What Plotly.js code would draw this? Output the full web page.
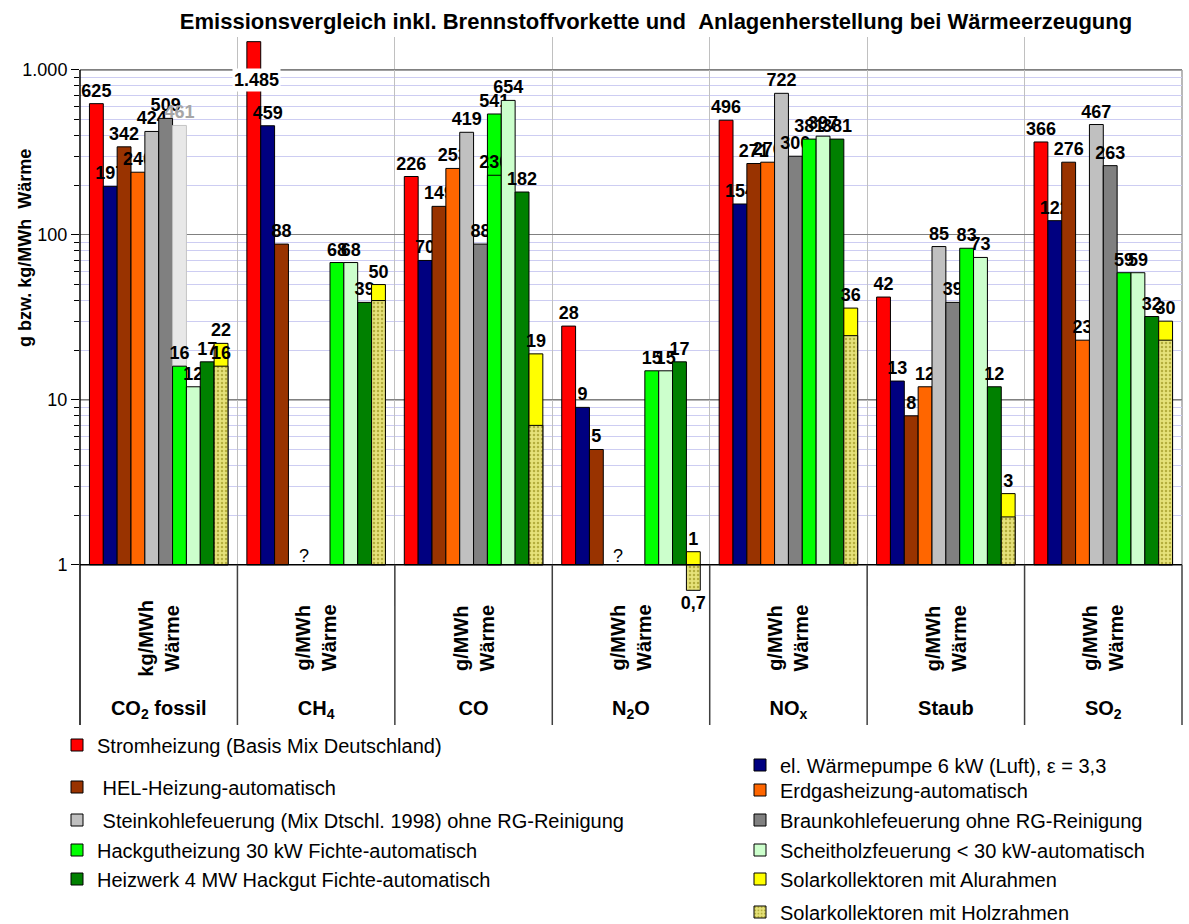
<!DOCTYPE html>
<html>
<head>
<meta charset="utf-8">
<script src="https://cdn.plot.ly/plotly-3.0.1.min.js"></script>
<style>html,body{margin:0;padding:0;background:#fff;}#chart{width:1189px;height:924px;}</style>
</head>
<body>
<div id="chart"></div>
<script>
// ---------- data ----------
const categories = ['CO2 fossil', 'CH4', 'CO', 'N2O', 'NOx', 'Staub', 'SO2'];
const categoryLabels = ['CO<sub>2</sub> fossil', 'CH<sub>4</sub>', 'CO', 'N<sub>2</sub>O', 'NO<sub>x</sub>', 'Staub', 'SO<sub>2</sub>'];
const unitLabels = ['kg/MWh', 'g/MWh', 'g/MWh', 'g/MWh', 'g/MWh', 'g/MWh', 'g/MWh'];
const unitSuffix = 'Wärme';

const stromheizung   = [625, 1485, 226, 28, 496, 42, 366];
const waermepumpe    = [197, 459, 70, 9, 154, 13, 122];
const helHeizung     = [342, 88, 149, 5, 271, 8, 276];
const erdgasHeizung  = [240, null, 253, null, 276, 12, 23];
const steinkohle     = [424, null, 419, null, 722, 85, 467];
const braunkohle     = [509, null, 88, null, 300, 39, 263];
const grauHinterlegt = [461, null, null, null, null, null, null];
const hackgut        = [16, 68, 541, 15, 381, 83, 59];
const hackgutTeil    = [null, null, 230, null, null, null, null];
const scheitholz     = [12, 68, 654, 15, 397, 73, 59];
const heizwerk       = [17, 39, 182, 17, 381, 12, 32];
const solarAlu       = [22, 50, 19, 1.2, 36, 2.7, 30];
const solarAluText   = ['22', '50', '19', '1', '36', '3', '30'];
const solarHolz      = [16, 40, 7, 0.7, 24.5, 1.95, 23];
const solarHolzText  = ['16', '', '', '0,7', '', '', ''];
const stromText      = ['625', '', '226', '28', '496', '42', '366'];
const stromSpitze    = '1.485';
const fehlend        = ['?', '?'];
const fehlendKat     = ['CH4', 'N2O'];

const yTickVals = [1, 10, 100, 1000];
const yTickText = ['1', '10', '100', '1.000'];

// ---------- geometry helpers ----------
const W = 1189, H = 924;
const M = {l: 80, r: 7, t: 37, b: 318, autoexpand: false};
const yRange = [-0.25, 3.2];
const plotH = H - M.t - M.b;
const pyVal = v => (Math.log10(v) - yRange[0]) / (yRange[1] - yRange[0]);
const pyPix = p => ((H - M.b) - p) / plotH;
const pxPix = p => (p - M.l) / (W - M.l - M.r);
const nSlots = 10, bargap = 0.12;
const slotOffset = k => -(1 - bargap) / 2 + (k + 0.5) * (1 - bargap) / nSlots;

const FONT = 'Arial, "Liberation Sans", Helvetica, sans-serif';
const base1 = arr => arr.map(() => 1);
const minus1 = arr => arr.map(v => v == null ? null : v - 1);
const lbl = arr => arr.map(v => v == null ? '' : String(v).replace('.', ','));

function barTrace(name, vals, color, og, opts) {
  opts = opts || {};
  return Object.assign({
    type: 'bar', name: name, x: categories, y: minus1(vals), base: base1(vals),
    offsetgroup: og, text: opts.text || lbl(vals), textposition: 'outside',
    textangle: 0, constraintext: 'none', cliponaxis: false,
    textfont: {family: FONT, size: 18, color: '#000', weight: 700},
    marker: {color: color, line: {color: '#000', width: 1}},
    hoverinfo: 'skip'
  }, opts.extra || {});
}

const traces = [
  barTrace('Stromheizung (Basis Mix Deutschland)', stromheizung, '#ff0000', 's0', {text: stromText, extra: {legend: 'legend'}}),
  barTrace('el. Wärmepumpe 6 kW (Luft), ε = 3,3', waermepumpe, '#000080', 's1', {extra: {legend: 'legend2'}}),
  barTrace('\u00a0HEL-Heizung-automatisch', helHeizung, '#993300', 's2', {extra: {legend: 'legend3'}}),
  barTrace('Erdgasheizung-automatisch', erdgasHeizung, '#ff6600', 's3', {extra: {legend: 'legend4'}}),
  barTrace('\u00a0Steinkohlefeuerung (Mix Dtschl. 1998) ohne RG-Reinigung', steinkohle, '#c0c0c0', 's4', {extra: {legend: 'legend5'}}),
  barTrace('Braunkohlefeuerung ohne RG-Reinigung', braunkohle, '#808080', 's5', {extra: {legend: 'legend6'}}),
  barTrace('grau', grauHinterlegt, '#e8e8e8', 's6', {extra: {showlegend: false,
    marker: {color: '#e8e8e8', line: {color: '#c4c4c4', width: 1}},
    textfont: {family: FONT, size: 18, color: '#a6a6a6', weight: 700}}}),
  barTrace('Hackgutheizung 30 kW Fichte-automatisch', hackgut, '#00ff00', 's6', {extra: {legend: 'legend7'}}),
  barTrace('Hackgut Teil', hackgutTeil, '#00ff00', 's6', {extra: {showlegend: false}}),
  barTrace('Scheitholzfeuerung &lt; 30 kW-automatisch', scheitholz, '#ccffcc', 's7', {extra: {legend: 'legend8'}}),
  barTrace('Heizwerk 4 MW Hackgut Fichte-automatisch', heizwerk, '#008000', 's8', {extra: {legend: 'legend9'}}),
  barTrace('Solarkollektoren mit Alurahmen', solarAlu, '#ffff00', 's9', {text: solarAluText, extra: {legend: 'legend10'}}),
  barTrace('Solarkollektoren mit Holzrahmen', solarHolz, '#e4df6c', 's9', {text: solarHolzText, extra: {legend: 'legend11',
    marker: {color: '#e4df6c', line: {color: '#000', width: 1},
      pattern: {shape: '.', fgcolor: '#b4ae3c', bgcolor: '#e6e27a', size: 4, solidity: 0.3}}}})
];

// ---------- legends ----------
const legendSpec = [
  ['legend', 'L', 745], ['legend2', 'R', 765], ['legend3', 'L', 787], ['legend4', 'R', 790],
  ['legend5', 'L', 820], ['legend6', 'R', 820], ['legend7', 'L', 850], ['legend8', 'R', 850],
  ['legend9', 'L', 879], ['legend10', 'R', 879], ['legend11', 'R', 912]
];
const layout = {
  width: W, height: H, margin: M,
  paper_bgcolor: '#fff', plot_bgcolor: '#fff',
  font: {family: FONT, color: '#000'},
  separators: ',.',
  barmode: 'group', bargap: bargap, bargroupgap: 0,
  title: {text: '<b>Emissionsvergleich inkl. Brennstoffvorkette und\u00a0\u00a0Anlagenherstellung bei Wärmeerzeugung</b>',
    font: {family: FONT, size: 22, color: '#000'}, x: 656 / W, xanchor: 'center', y: 1 - 21 / H, yanchor: 'middle'},
  xaxis: {type: 'category', categoryorder: 'array', categoryarray: categories,
    tickvals: categories, ticktext: categoryLabels, tickson: 'boundaries', automargin: false,
    showgrid: true, gridcolor: '#c0c0c0', gridwidth: 1, ticks: '', showline: false, zeroline: false,
    tickfont: {family: FONT, size: 20, color: '#000', weight: 700}, ticklabelstandoff: 88, fixedrange: true},
  yaxis: {type: 'log', range: yRange, tickvals: yTickVals, ticktext: yTickText, automargin: false,
    ticks: 'outside', ticklen: 8, tickcolor: '#000', showgrid: true, gridcolor: '#808080', gridwidth: 1,
    zeroline: false, showline: false, tickfont: {family: FONT, size: 18, color: '#000'},
    minor: {tickvals: [2,3,4,5,6,7,8,9,20,30,40,50,60,70,80,90,200,300,400,500,600,700,800,900],
      ticks: 'outside', ticklen: 5, tickcolor: '#000', showgrid: true, gridcolor: '#cdcdf2', gridwidth: 1},
    fixedrange: true},
  shapes: [],
  annotations: []
};
legendSpec.forEach(([id, side, yp]) => {
  layout[id] = {x: side === 'L' ? pxPix(57) : pxPix(740), xanchor: 'left', y: pyPix(yp), yanchor: 'middle',
    bgcolor: 'rgba(0,0,0,0)', borderwidth: 0, font: {family: FONT, size: 20, color: '#000'}, itemwidth: 30};
});

// ---------- frame / table lines ----------
const yTop = pyVal(1000), yOne = pyVal(1), yTen = pyVal(10), yTable = pyPix(725);
layout.shapes.push(
  {type: 'rect', xref: 'paper', yref: 'paper', x0: 0, x1: 1, y0: yTop, y1: 1, fillcolor: '#fff', line: {width: 0}, layer: 'between'},
  {type: 'rect', xref: 'paper', yref: 'paper', x0: 0, x1: 1, y0: 0, y1: yOne, fillcolor: '#fff', line: {width: 0}, layer: 'between'},
  {type: 'line', xref: 'paper', yref: 'paper', x0: 0, x1: 1, y0: yTen, y1: yTen, line: {color: '#202020', width: 1}, layer: 'between'},
  {type: 'line', xref: 'paper', yref: 'paper', x0: 0, x1: 1, y0: yTop, y1: yTop, line: {color: '#808080', width: 1.5}, layer: 'between'},
  {type: 'line', xref: 'paper', yref: 'paper', x0: 1, x1: 1, y0: yOne, y1: yTop, line: {color: '#a0a0a0', width: 1.5}, layer: 'between'},
  {type: 'line', xref: 'paper', yref: 'paper', x0: 0, x1: 1, y0: yOne, y1: yOne, line: {color: '#000', width: 1.5}, layer: 'above'},
  {type: 'line', xref: 'paper', yref: 'paper', x0: 0, x1: 0, y0: yTable, y1: yTop, line: {color: '#000', width: 1.5}, layer: 'above'}
);
for (let k = 1; k <= categories.length; k++) {
  layout.shapes.push({type: 'line', xref: 'paper', yref: 'paper', x0: k / categories.length, x1: k / categories.length,
    y0: yTable, y1: yOne, line: {color: '#404040', width: 1.5}, layer: 'above'});
}

// ---------- annotations ----------
categories.forEach((c, i) => {
  layout.annotations.push({xref: 'x', yref: 'paper', x: c, y: pyPix(638), xanchor: 'center', yanchor: 'middle',
    textangle: -90, showarrow: false,
    text: '<b>' + unitLabels[i] + '<br>' + unitSuffix + '</b>', font: {family: FONT, size: 20, color: '#000'}});
});
layout.annotations.push({xref: 'paper', yref: 'paper', x: pxPix(25), y: pyPix(248), xanchor: 'center', yanchor: 'middle',
  textangle: -90, showarrow: false,
  text: '<b>g bzw. kg/MWh\u00a0\u00a0Wärme</b>', font: {family: FONT, size: 18, color: '#000'}});
fehlendKat.forEach((c, i) => {
  layout.annotations.push({xref: 'x', yref: 'paper', x: categories.indexOf(c) - 0.08, y: pyPix(556),
    xanchor: 'center', yanchor: 'middle', showarrow: false,
    text: fehlend[i], font: {family: FONT, size: 18, color: '#000'}});
});
layout.annotations.push({xref: 'x', yref: 'paper', x: categories.indexOf('CH4') + slotOffset(0) + 0.02, y: pyPix(80),
  xanchor: 'center', yanchor: 'middle',
  showarrow: false, text: '<b>' + stromSpitze + '</b>', bgcolor: '#fff', borderpad: 1,
  font: {family: FONT, size: 18, color: '#000'}});

Plotly.newPlot('chart', traces, layout, {displayModeBar: false, staticPlot: true});
</script>
</body>
</html>
